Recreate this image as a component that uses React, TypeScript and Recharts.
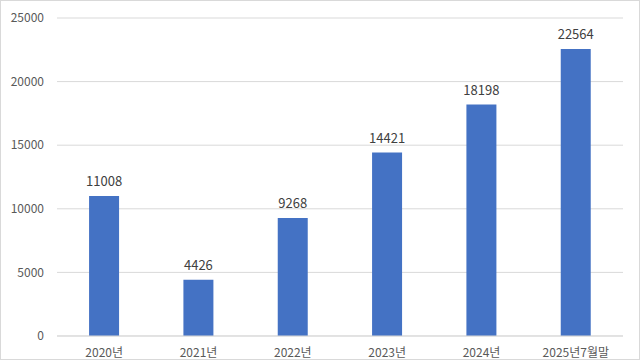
import { Bar, BarChart, CartesianGrid, LabelList, XAxis, YAxis } from "recharts";

const years = ["2020년", "2021년", "2022년", "2023년", "2024년", "2025년7월말"];
const counts = [11008, 4426, 9268, 14421, 18198, 22564];
const yTicks = [0, 5000, 10000, 15000, 20000, 25000];

const data = years.map((year, i) => ({ year, count: counts[i] }));

const font = "'Noto Sans CJK KR', 'Noto Sans', sans-serif";

export default function App() {
  return (
    <div
      style={{
        position: "absolute",
        left: 0,
        top: 0,
        width: 640,
        height: 360,
        background: "#fff",
        boxSizing: "border-box",
        border: "1px solid #d9d9d9",
        overflow: "hidden",
      }}
    >
      <BarChart
        width={638}
        height={358}
        data={data}
        margin={{ top: 17, right: 16, bottom: 0, left: 0 }}
        barCategoryGap="34%"
      >
        <CartesianGrid vertical={false} stroke="#d9d9d9" />
        <XAxis
          dataKey="year"
          height={23}
          axisLine={{ stroke: "#d9d9d9" }}
          tickLine={false}
          tickSize={0}
          tickMargin={12}
          tick={{ fill: "#595959", fontSize: 12, fontFamily: font }}
          interval={0}
        />
        <YAxis
          width={56}
          domain={[0, 25000]}
          ticks={yTicks}
          axisLine={false}
          tickLine={false}
          tickSize={0}
          tickMargin={13}
          tick={{ fill: "#595959", fontSize: 12, fontFamily: font }}
        />
        <Bar dataKey="count" fill="#4472C4" isAnimationActive={false}>
          <LabelList
            dataKey="count"
            position="top"
            offset={10}
            fill="#404040"
            fontSize={13}
            fontFamily={font}
          />
        </Bar>
      </BarChart>
    </div>
  );
}
